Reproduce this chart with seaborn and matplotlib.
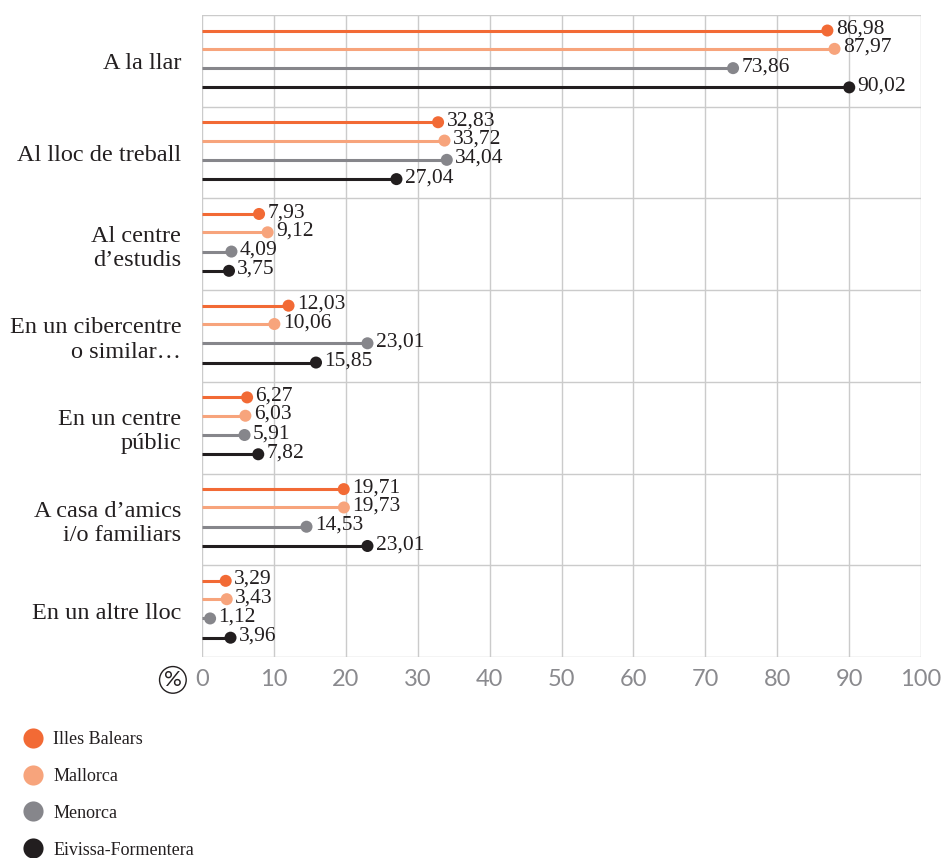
import pandas as pd
import seaborn as sns
import matplotlib.pyplot as plt
from matplotlib.lines import Line2D


categories = ["A la llar", "Al lloc de treball", "Al centre\nd’estudis",
              "En un cibercentre\no similar…", "En un centre\npúblic",
              "A casa d’amics\ni/o familiars", "En un altre lloc"]
regions = ["Illes Balears", "Mallorca", "Menorca", "Eivissa-Formentera"]
illes_balears = [86.98, 32.83, 7.93, 12.03, 6.27, 19.71, 3.29]
mallorca = [87.97, 33.72, 9.12, 10.06, 6.03, 19.73, 3.43]
menorca = [73.86, 34.04, 4.09, 23.01, 5.91, 14.53, 1.12]
eivissa = [90.02, 27.04, 3.75, 15.85, 7.82, 23.01, 3.96]
x_ticks = [0, 10, 20, 30, 40, 50, 60, 70, 80, 90, 100]

colors = ["#f26a35", "#f7a47c", "#86868b", "#221e1f"]
offsets = [-0.33, -0.13, 0.08, 0.29]

rows = []
for region, vals, off in zip(regions, [illes_balears, mallorca, menorca, eivissa], offsets):
    for i, v in enumerate(vals):
        rows.append({"region": region, "cat": i, "value": v, "y": i + off})
df = pd.DataFrame(rows)

sns.set_style("white")
plt.rcParams['font.family'] = ['Liberation Serif', 'DejaVu Serif']

fig = plt.figure(figsize=(9.49, 8.58), dpi=100)
ax = fig.add_axes([0.2129, 0.2343, 0.7576, 0.7483])

for region, color in zip(regions, colors):
    d = df[df.region == region]
    ax.hlines(d.y, 0, d.value, color=color, lw=2.2, zorder=3)

sns.scatterplot(data=df, x="value", y="y", hue="region", palette=colors,
                s=75, edgecolor="none", legend=False, ax=ax, zorder=4)

for _, r in df.iterrows():
    ax.annotate(f"{r.value:.2f}".replace(".", ","), (r.value, r.y),
                xytext=(6, 1), textcoords="offset points", va="center",
                ha="left", fontsize=15.5, color="#231f20", zorder=5)

ax.set_xlim(0, 100)
ax.set_ylim(6.5, -0.5)
ax.set_xticks(x_ticks)
ax.set_yticks(range(len(categories)))
ax.set_yticklabels(categories, multialignment="right")
ax.set_yticks([i - 0.5 for i in range(len(categories) + 1)], minor=True)
ax.grid(False)
ax.grid(axis="x", which="major", color="#cbcbcb", lw=1)
ax.grid(axis="y", which="minor", color="#cbcbcb", lw=1)
for s in ax.spines.values():
    s.set_visible(False)

ax.tick_params(axis="x", length=8, width=1, color="#cbcbcb",
               labelcolor="#8a8a8e", labelsize=17, pad=1)
for lab in ax.get_xticklabels():
    lab.set_family(["Lato", "DejaVu Sans"])
ax.tick_params(axis="y", which="major", length=0, labelsize=17.5,
               labelcolor="#231f20", pad=15)
ax.tick_params(axis="y", which="minor", length=6, width=1, color="#cbcbcb")
ax.set_xlabel("")
ax.set_ylabel("")

ax.annotate("%", xy=(0, 0), xycoords="axes fraction", xytext=(-21, -16.5),
            textcoords="offset points", ha="center", va="center", fontsize=16,
            color="#231f20", family=["Lato", "DejaVu Sans"],
            bbox=dict(boxstyle="circle,pad=0.15", fc="white", ec="#231f20", lw=1))

handles = [Line2D([0], [0], marker="o", ls="", markersize=14.5,
                  markerfacecolor=c, markeredgecolor="none") for c in colors]
fig.legend(handles, regions, loc="upper left", bbox_to_anchor=(0.0253, 0.148),
           frameon=False, fontsize=13, handlelength=1.0, handletextpad=0.61,
           labelspacing=1.1, borderaxespad=0, borderpad=0, labelcolor="#231f20")

fig.savefig("out.png", dpi=100)
